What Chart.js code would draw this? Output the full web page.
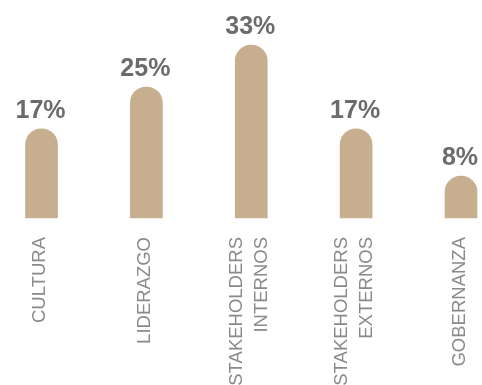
<!DOCTYPE html>
<html>
<head>
<meta charset="utf-8">
<script src="https://cdn.jsdelivr.net/npm/chart.js@4"></script>
<style>
  html, body { margin: 0; padding: 0; background: #fff; overflow: hidden; }
  #wrap { width: 482px; height: 385px; }
</style>
</head>
<body>
<div id="wrap"><canvas id="grafico" width="482" height="385"></canvas></div>
<script>
const categorias = [
    ['CULTURA'],
    ['LIDERAZGO'],
    ['STAKEHOLDERS', 'INTERNOS'],
    ['STAKEHOLDERS', 'EXTERNOS'],
    ['GOBERNANZA']
];
const valores = [17, 25, 33, 17, 8];

const corBarra = '#c6ae8e';
const corValor = '#6b6b6b';
const corCategoria = '#8a8a8a';

// rótulos de valor acima de cada barra
const rotulosValor = {
    id: 'rotulosValor',
    afterDatasetsDraw(chart) {
        const ctx = chart.ctx;
        const meta = chart.getDatasetMeta(0);
        ctx.save();
        ctx.font = 'bold 25px "Liberation Sans", Arial, sans-serif';
        ctx.fillStyle = corValor;
        ctx.textAlign = 'center';
        ctx.textBaseline = 'alphabetic';
        meta.data.forEach(function (bar, i) {
            ctx.fillText(valores[i] + '%', bar.x - 1, bar.y - 11);
        });
        ctx.restore();
    }
};

// categorias giradas, linhas centradas no tick
const rotulosCategoria = {
    id: 'rotulosCategoria',
    afterDraw(chart) {
        const ctx = chart.ctx;
        const x = chart.scales.x;
        const alturaLinha = 25;
        ctx.save();
        ctx.font = '18.5px "Liberation Sans", Arial, sans-serif';
        ctx.fillStyle = corCategoria;
        ctx.textAlign = 'right';
        ctx.textBaseline = 'middle';
        categorias.forEach(function (linhas, i) {
            const px = x.getPixelForValue(i);
            linhas.forEach(function (linha, j) {
                const dx = (j - (linhas.length - 1) / 2) * alturaLinha - 1.5;
                ctx.save();
                ctx.translate(px + dx, 237);
                ctx.rotate(-Math.PI / 2);
                ctx.fillText(linha, 0, 0);
                ctx.restore();
            });
        });
        ctx.restore();
    }
};

new Chart(document.getElementById('grafico'), {
    type: 'bar',
    data: {
        labels: categorias,
        datasets: [{
            data: valores,
            backgroundColor: corBarra,
            borderWidth: 0,
            borderRadius: { topLeft: 16, topRight: 16, bottomLeft: 0, bottomRight: 0 },
            borderSkipped: false,
            barThickness: 32,
            clip: false
        }]
    },
    options: {
        responsive: false,
        animation: false,
        events: [],
        layout: {
            padding: { left: 41.5, right: 21, top: 8.4, bottom: 167 }
        },
        plugins: {
            legend: { display: false },
            tooltip: { enabled: false }
        },
        scales: {
            x: {
                display: false,
                offset: false
            },
            y: {
                display: false,
                min: 0,
                max: 40
            }
        }
    },
    plugins: [rotulosValor, rotulosCategoria]
});
</script>
</body>
</html>
